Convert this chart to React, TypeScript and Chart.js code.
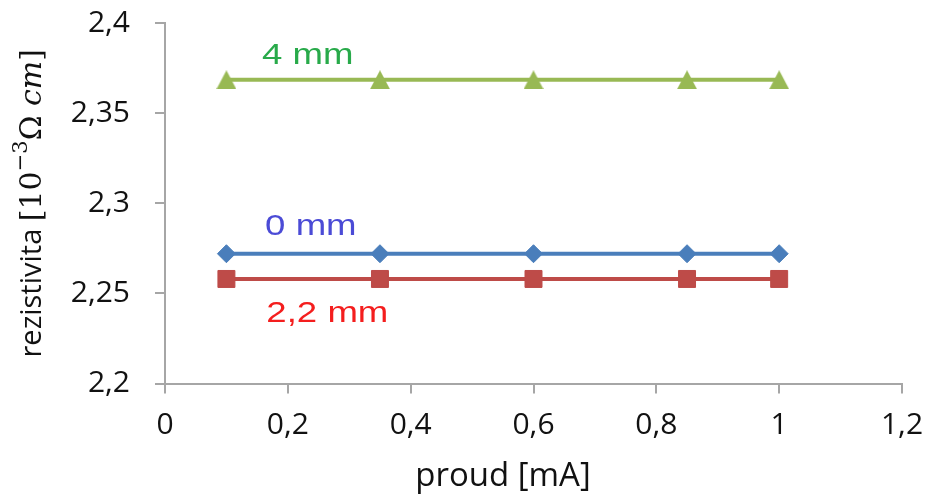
import React, { useEffect, useRef } from 'react';
import { Chart, registerables } from 'chart.js';

Chart.register(...registerables);

// ---- data ----
const currents = [0.1, 0.35, 0.6, 0.85, 1.0];
const rho0mm = [2.272, 2.272, 2.272, 2.272, 2.272];
const rho22mm = [2.258, 2.258, 2.258, 2.258, 2.258];
const rho4mm = [2.3685, 2.3685, 2.3685, 2.3685, 2.3685];
const seriesLabels = ['0 mm', '2,2 mm', '4 mm'];
const xTickValues = [0, 0.2, 0.4, 0.6, 0.8, 1.0, 1.2];
const yTickValues = [2.2, 2.25, 2.3, 2.35, 2.4];
const xTitle = 'proud [mA]';

// ---- style ----
const lineColors = ['#4a7ebb', '#be4b48', '#98b954'];
const textColors = ['#4b4bd6', '#f41e1e', '#28aa4a'];
const labelAnchors = [
  { x: 0.163, y: 2.2868 },
  { x: 0.165, y: 2.2385 },
  { x: 0.158, y: 2.382 },
];
const axisColor = '#a6a6a6';
const fmt = (v: number) => String(Math.round(v * 100) / 100).replace('.', ',');

function makeTriangle(color: string) {
  const c = document.createElement('canvas');
  c.width = 20;
  c.height = 19;
  const ctx = c.getContext('2d')!;
  ctx.fillStyle = color;
  ctx.beginPath();
  ctx.moveTo(0, 19);
  ctx.lineTo(10, 0);
  ctx.lineTo(20, 19);
  ctx.closePath();
  ctx.fill();
  return c;
}

const annotationPlugin = {
  id: 'seriesText',
  afterDatasetsDraw(chart: any) {
    const ctx = chart.ctx;
    const xs = chart.scales.x;
    const ys = chart.scales.y;
    ctx.save();
    ctx.font = '30px "Liberation Sans", Arial, sans-serif';
    ctx.textAlign = 'left';
    ctx.textBaseline = 'middle';
    seriesLabels.forEach((t, i) => {
      const px = xs.getPixelForValue(labelAnchors[i].x);
      const py = ys.getPixelForValue(labelAnchors[i].y);
      ctx.save();
      ctx.translate(px, py);
      ctx.scale(1.22, 1);
      ctx.fillStyle = textColors[i];
      ctx.fillText(t, 0, 0);
      ctx.restore();
    });
    ctx.restore();
  },
  afterDraw(chart: any) {
    const ctx = chart.ctx;
    const area = chart.chartArea;
    // x title
    ctx.save();
    ctx.fillStyle = '#111';
    ctx.font = '33px "Open Sans", sans-serif';
    ctx.textAlign = 'center';
    ctx.textBaseline = 'middle';
    ctx.fillText(xTitle, 503, 477);
    ctx.restore();

    // y title with mixed fonts
    const segs = [
      { t: 'rezistivita ', f: '29px "Open Sans", sans-serif', dy: 0 },
      { t: '[10', f: '30px "DejaVu Serif", serif', dy: 0 },
      { t: '\u22123', f: '21px "DejaVu Serif", serif', dy: -11 },
      { t: '\u03A9 ', f: '30px "DejaVu Serif", serif', dy: 0 },
      { t: 'cm', f: 'italic 30px "DejaVu Serif", serif', dy: 0 },
      { t: ']', f: '30px "DejaVu Serif", serif', dy: 0 },
    ];
    ctx.save();
    let total = 0;
    const widths = segs.map((s) => {
      ctx.font = s.f;
      const w = ctx.measureText(s.t).width;
      total += w;
      return w;
    });
    const cy = (area.top + area.bottom) / 2;
    ctx.translate(33, cy);
    ctx.rotate(-Math.PI / 2);
    ctx.fillStyle = '#111';
    ctx.textBaseline = 'middle';
    ctx.textAlign = 'left';
    let x = -total / 2;
    segs.forEach((s, i) => {
      ctx.font = s.f;
      ctx.fillText(s.t, x, s.dy);
      x += widths[i];
    });
    ctx.restore();
  },
};

export default function App() {
  const ref = useRef<HTMLCanvasElement>(null);

  useEffect(() => {
    document.body.style.margin = '0';
    const canvas = ref.current!;
    const series = [rho0mm, rho22mm, rho4mm];
    const pointStyles: any[] = ['rectRot', 'rect', makeTriangle(lineColors[2])];
    const radii = [9, 12, 10];
    const chart = new Chart(canvas, {
      type: 'line',
      data: {
        datasets: series.map((vals, i) => ({
          label: seriesLabels[i],
          data: currents.map((c, j) => ({ x: c, y: vals[j] })),
          borderColor: lineColors[i],
          backgroundColor: lineColors[i],
          borderWidth: 4,
          pointStyle: pointStyles[i],
          pointRadius: radii[i],
          pointBorderWidth: 1,
          pointBackgroundColor: lineColors[i],
          pointBorderColor: lineColors[i],
          tension: 0,
        })),
      },
      options: {
        responsive: false,
        animation: false,
        events: [],
        layout: { padding: { top: 23, right: 26, left: 0, bottom: 0 } },
        plugins: {
          legend: { display: false },
          tooltip: { enabled: false },
        },
        scales: {
          x: {
            type: 'linear',
            min: 0,
            max: 1.2,
            afterBuildTicks: (s: any) => {
              s.ticks = xTickValues.map((v) => ({ value: v }));
            },
            afterFit: (s: any) => {
              s.height = 113.5;
              s.paddingLeft = 0;
              s.paddingRight = 0;
            },
            ticks: {
              callback: (v: any) => fmt(Number(v)),
              font: { family: '"Open Sans", sans-serif', size: 30 },
              color: '#111',
              padding: 14,
              maxRotation: 0,
              autoSkip: false,
            },
            grid: {
              display: true,
              drawOnChartArea: false,
              drawTicks: true,
              tickLength: 10,
              color: axisColor,
              lineWidth: 2,
            },
            border: { display: true, color: axisColor, width: 2 },
          },
          y: {
            type: 'linear',
            min: 2.2,
            max: 2.4,
            afterBuildTicks: (s: any) => {
              s.ticks = yTickValues.map((v) => ({ value: v }));
            },
            afterFit: (s: any) => {
              s.width = 165;
              s.paddingTop = 0;
              s.paddingBottom = 0;
            },
            ticks: {
              callback: (v: any) => fmt(Number(v)),
              font: { family: '"Open Sans", sans-serif', size: 30 },
              color: '#111',
              padding: 25,
              autoSkip: false,
            },
            grid: {
              display: true,
              drawOnChartArea: false,
              drawTicks: true,
              tickLength: 10,
              color: axisColor,
              lineWidth: 2,
            },
            border: { display: true, color: axisColor, width: 2 },
          },
        },
      },
      plugins: [annotationPlugin],
    });
    return () => chart.destroy();
  }, []);

  return (
    <div style={{ width: 928, height: 497, background: '#fff' }}>
      <canvas ref={ref} width={928} height={497} style={{ display: 'block' }} />
    </div>
  );
}
